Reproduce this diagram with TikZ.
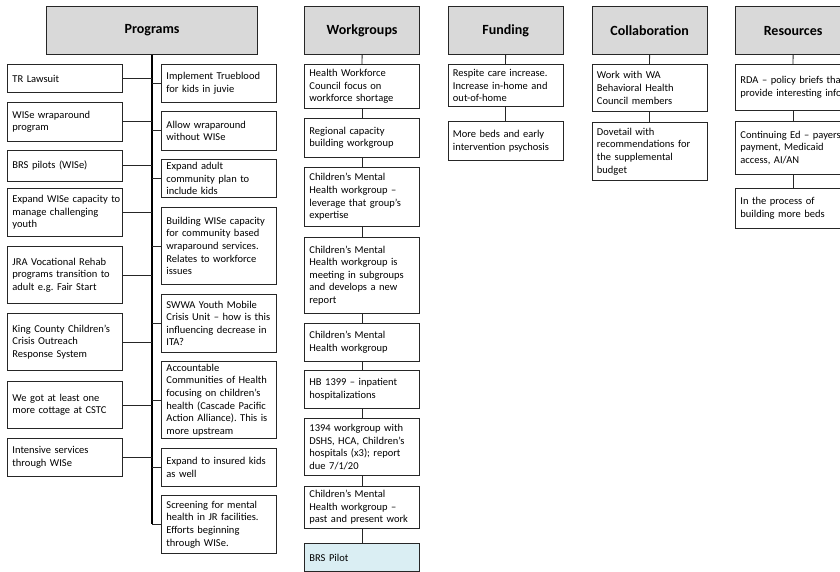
\documentclass[tikz,border=0pt]{standalone}
\usepackage{fontspec}
\setmainfont{Carlito}
\frenchspacing
\definecolor{hdrfill}{HTML}{D9D9D9}
\definecolor{bluefill}{HTML}{DAEEF3}
\definecolor{edge}{HTML}{262626}
\tikzset{
  hdr/.style={draw=edge, line width=1.2pt, fill=hdrfill, anchor=north west,
    font=\fontsize{14}{16}\selectfont\bfseries, inner sep=0pt},
  bx/.style={draw=edge, line width=0.9pt, fill=white, anchor=north west,
    minimum width=115pt, text width=115pt, inner xsep=0pt, inner ysep=1pt,
    align=left, font=\fontsize{10.5}{12.6}\selectfont\frenchspacing,
    execute at begin node={\leftskip=5pt}},
  bluebx/.style={bx, fill=bluefill},
  conn/.style={draw=edge, line width=0.9pt},
  trunk/.style={draw=black, line width=1.6pt}
}
\begin{document}
\begin{tikzpicture}[x=1pt,y=-1pt]
\useasboundingbox (0,0) rectangle (840,572);
\clip (0,0) rectangle (840,572);
\fill[white] (0,0) rectangle (840,572);

% ---------- Programs ----------
\node[hdr, minimum width=211pt, minimum height=48pt] (ph) at (46,6) {Programs};
\node[bx, minimum height=28pt] (L1) at (7,64) {TR Lawsuit};
\node[bx, minimum height=39pt] (L2) at (7,102) {WISe wraparound\\program};
\node[bx, minimum height=31pt] (L3) at (7,150) {BRS pilots (WISe)};
\node[bx, minimum height=48pt] (L4) at (7,188) {Expand WISe capacity to\\manage challenging\\youth};
\node[bx, minimum height=57pt] (L5) at (7,246) {JRA Vocational Rehab\\programs transition to\\adult e.g. Fair Start};
\node[bx, minimum height=57pt] (L6) at (7,313) {King County Children’s\\Crisis Outreach\\Response System};
\node[bx, minimum height=47pt] (L7) at (7,381) {We got at least one\\more cottage at CSTC};
\node[bx, minimum height=38pt] (L8) at (7,438) {Intensive services\\through WISe};

\node[bx, minimum height=38pt] (R1) at (161,64) {Implement Trueblood\\for kids in juvie};
\node[bx, minimum height=39pt] (R2) at (161,111) {Allow wraparound\\without WISe};
\node[bx, minimum height=38pt] (R3) at (161,159) {Expand adult\\community plan to\\include kids};
\node[bx, minimum height=77pt] (R4) at (161,207) {Building WISe capacity\\for community based\\wraparound services.\\Relates to workforce\\issues};
\node[bx, minimum height=58pt] (R5) at (161,294) {SWWA Youth Mobile\\Crisis Unit – how is this\\influencing decrease in\\ITA?};
\node[bx, minimum height=77pt] (R6) at (161,361) {Accountable\\Communities of Health\\focusing on children’s\\health (Cascade Pacific\\Action Alliance). This is\\more upstream};
\node[bx, minimum height=38pt] (R7) at (161,448) {Expand to insured kids\\as well};
\node[bx, minimum height=58pt] (R8) at (161,495) {Screening for mental\\health in JR facilities.\\Efforts beginning\\through WISe.};

\coordinate (pend) at (ph.south |- R8.west);
\draw[trunk] (ph.south) -- (pend);
\foreach \n in {L1,L2,L3,L4,L5,L6,L7,L8}
  \draw[conn] (\n.east) -- (\n.east -| ph.south);
\foreach \n in {R1,R2,R3,R4,R5,R6,R7,R8}
  \draw[conn] (\n.west) -- (\n.west -| ph.south);

% ---------- Workgroups ----------
\node[hdr, minimum width=115pt, minimum height=48pt] (wh) at (304,6) {Workgroups};
\node[bx, minimum height=44pt] (W1) at (304,64) {Health Workforce\\Council focus on\\workforce shortage};
\node[bx, minimum height=39pt] (W2) at (304,118) {Regional capacity\\building workgroup};
\node[bx, minimum height=59pt] (W3) at (304,167) {Children’s Mental\\Health workgroup –\\leverage that group’s\\expertise};
\node[bx, minimum height=76pt] (W4) at (304,237) {Children’s Mental\\Health workgroup is\\meeting in subgroups\\and develops a new\\report};
\node[bx, minimum height=38pt] (W5) at (304,323) {Children’s Mental\\Health workgroup};
\node[bx, minimum height=38pt] (W6) at (304,370) {HB 1399 – inpatient\\hospitalizations};
\node[bx, minimum height=57pt] (W7) at (304,418) {1394 workgroup with\\DSHS, HCA, Children’s\\hospitals (x3); report\\due 7/1/20};
\node[bx, minimum height=42pt] (W8) at (304,486) {Children’s Mental\\Health workgroup –\\past and present work};
\node[bluebx, minimum height=28pt] (W9) at (304,543) {BRS Pilot};
\draw[conn] (wh.south) -- (W1.north);
\draw[conn] (W1.south) -- (W2.north);
\draw[conn] (W2.south) -- (W3.north);
\draw[conn] (W3.south) -- (W4.north);
\draw[conn] (W4.south) -- (W5.north);
\draw[conn] (W5.south) -- (W6.north);
\draw[conn] (W6.south) -- (W7.north);
\draw[conn] (W7.south) -- (W8.north);
\draw[conn] (W8.south) -- (W9.north);

% ---------- Funding ----------
\node[hdr, minimum width=115pt, minimum height=48pt] (fh) at (447.5,6) {Funding};
\node[bx, minimum height=42pt] (F1) at (447.5,64) {Respite care increase.\\Increase in-home and\\out-of-home};
\node[bx, minimum height=39pt] (F2) at (447.5,121) {More beds and early\\intervention psychosis};
\draw[conn] (fh.south) -- (F1.north);
\draw[conn] (F1.south) -- (F2.north);

% ---------- Collaboration ----------
\node[hdr, minimum width=115pt, minimum height=48pt] (ch) at (591.5,6) {Collaboration};
\node[bx, minimum height=47pt] (C1) at (591.5,64) {Work with WA\\Behavioral Health\\Council members};
\node[bx, minimum height=58pt] (C2) at (591.5,122) {Dovetail with\\recommendations for\\the supplemental\\budget};
\draw[conn] (ch.south) -- (C1.north);
\draw[conn] (C1.south) -- (C2.north);

% ---------- Resources ----------
\node[hdr, minimum width=115pt, minimum height=48pt] (rh) at (735,6) {Resources};
\node[bx, minimum height=46pt] (S1) at (735,64) {RDA – policy briefs that\\provide interesting info};
\node[bx, minimum height=53pt] (S2) at (735,121) {Continuing Ed – payers,\\payment, Medicaid\\access, AI/AN};
\node[bx, minimum height=40pt] (S3) at (735,188) {In the process of\\building more beds};
\draw[conn] (rh.south) -- (S1.north);
\draw[conn] (S1.south) -- (S2.north);
\draw[conn] (S2.south) -- (S3.north);
\end{tikzpicture}
\end{document}
